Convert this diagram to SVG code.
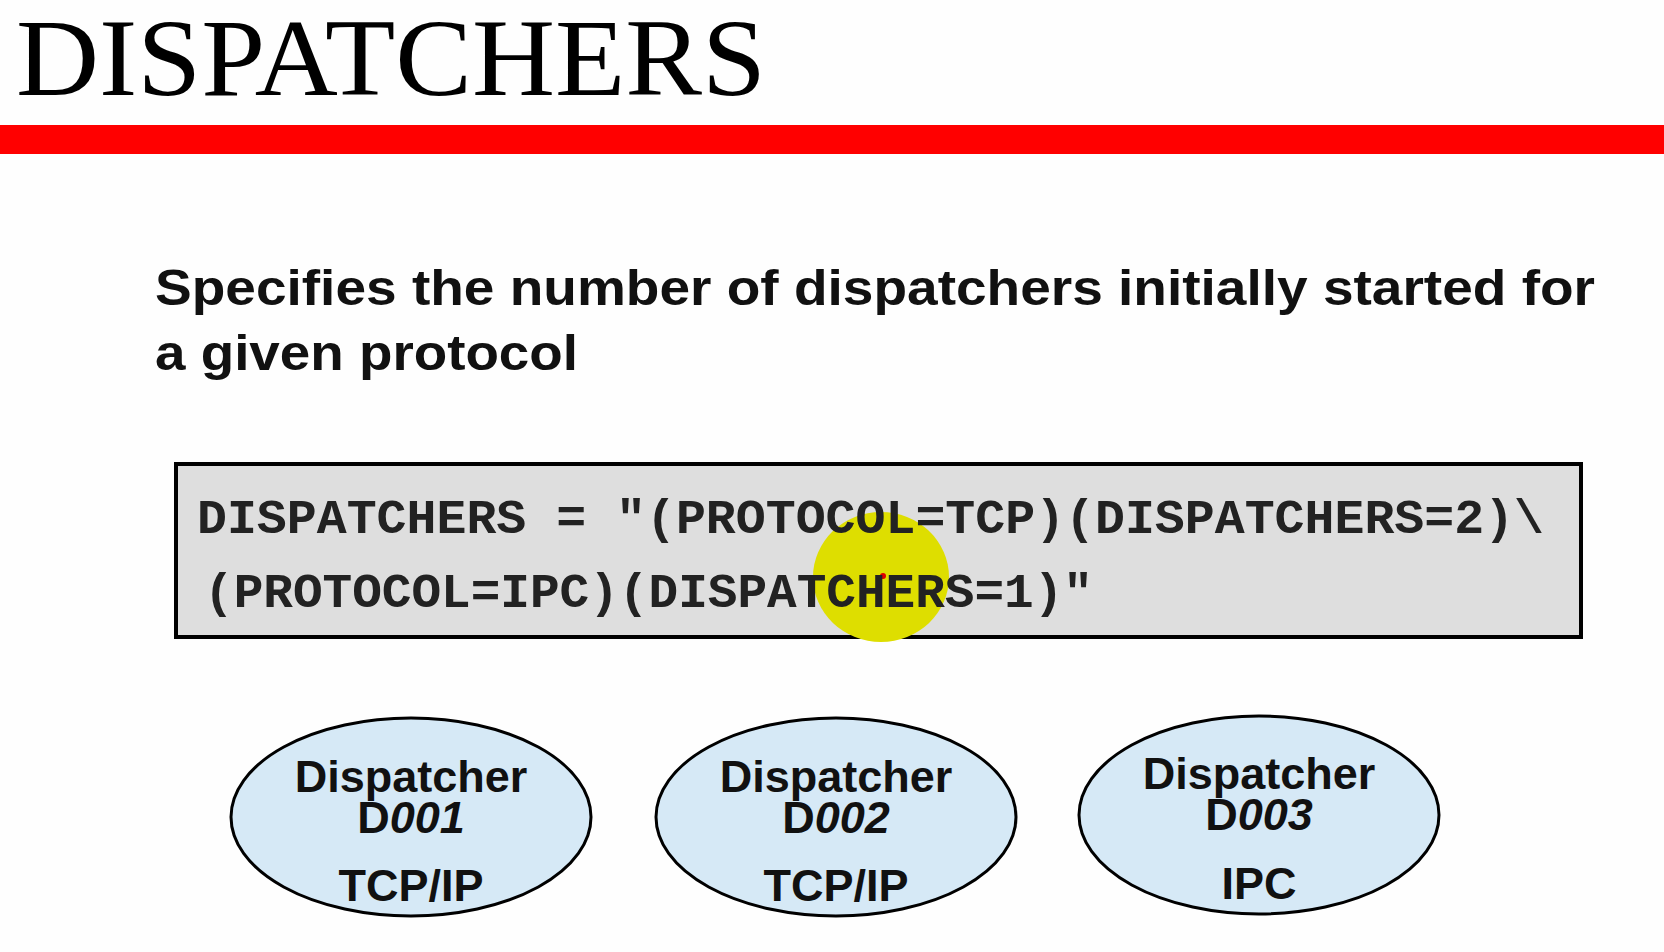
<svg xmlns="http://www.w3.org/2000/svg" width="1664" height="952" viewBox="0 0 1664 952">
<style>
.title{font-family:"Liberation Serif","Times New Roman",serif;font-size:110px;fill:#000}
.sub{font-family:"Liberation Sans",Arial,sans-serif;font-weight:bold;font-size:50px;fill:#111}
.code{font-family:"Liberation Mono","Courier New",monospace;font-weight:bold;font-size:49px;fill:#222}
.node ellipse{fill:#d6e9f6;stroke:#000;stroke-width:3}
.lbl{font-family:"Liberation Sans",Arial,sans-serif;font-weight:bold;font-size:45px;fill:#111;text-anchor:middle}
.it{font-style:italic}
</style>
<rect width="1664" height="952" fill="#fefefe"/>
<text class="title" x="16" y="95" textLength="750" lengthAdjust="spacingAndGlyphs">DISPATCHERS</text>
<rect x="0" y="125" width="1664" height="29" fill="#ff0000"/>
<text class="sub" x="155" y="305" textLength="1440" lengthAdjust="spacingAndGlyphs">Specifies the number of dispatchers initially started for</text>
<text class="sub" x="155" y="370" textLength="423" lengthAdjust="spacingAndGlyphs">a given protocol</text>
<g id="code-box">
<rect x="176" y="464" width="1405" height="173" fill="#dedede" stroke="#000" stroke-width="4"/>
<ellipse cx="881" cy="577" rx="68" ry="65" fill="#dede00"/>
<circle cx="883" cy="576" r="3" fill="#e00000"/>
<text class="code" x="197" y="533" textLength="1347" lengthAdjust="spacingAndGlyphs">DISPATCHERS = "(PROTOCOL=TCP)(DISPATCHERS=2)\</text>
<text class="code" x="204" y="607" textLength="889" lengthAdjust="spacingAndGlyphs">(PROTOCOL=IPC)(DISPATCHERS=1)"</text>
</g>
<g id="connectors"></g>
<g id="d001" class="node">
<ellipse cx="411" cy="817" rx="180" ry="99"/>
<text class="lbl" x="411" y="792">Dispatcher</text>
<text class="lbl" x="411" y="833">D<tspan class="it">001</tspan></text>
<text class="lbl" x="411" y="901">TCP/IP</text>
</g>
<g id="d002" class="node">
<ellipse cx="836" cy="817" rx="180" ry="99"/>
<text class="lbl" x="836" y="792">Dispatcher</text>
<text class="lbl" x="836" y="833">D<tspan class="it">002</tspan></text>
<text class="lbl" x="836" y="901">TCP/IP</text>
</g>
<g id="d003" class="node">
<ellipse cx="1259" cy="815" rx="180" ry="99"/>
<text class="lbl" x="1259" y="789">Dispatcher</text>
<text class="lbl" x="1259" y="830">D<tspan class="it">003</tspan></text>
<text class="lbl" x="1259" y="899">IPC</text>
</g>
</svg>
